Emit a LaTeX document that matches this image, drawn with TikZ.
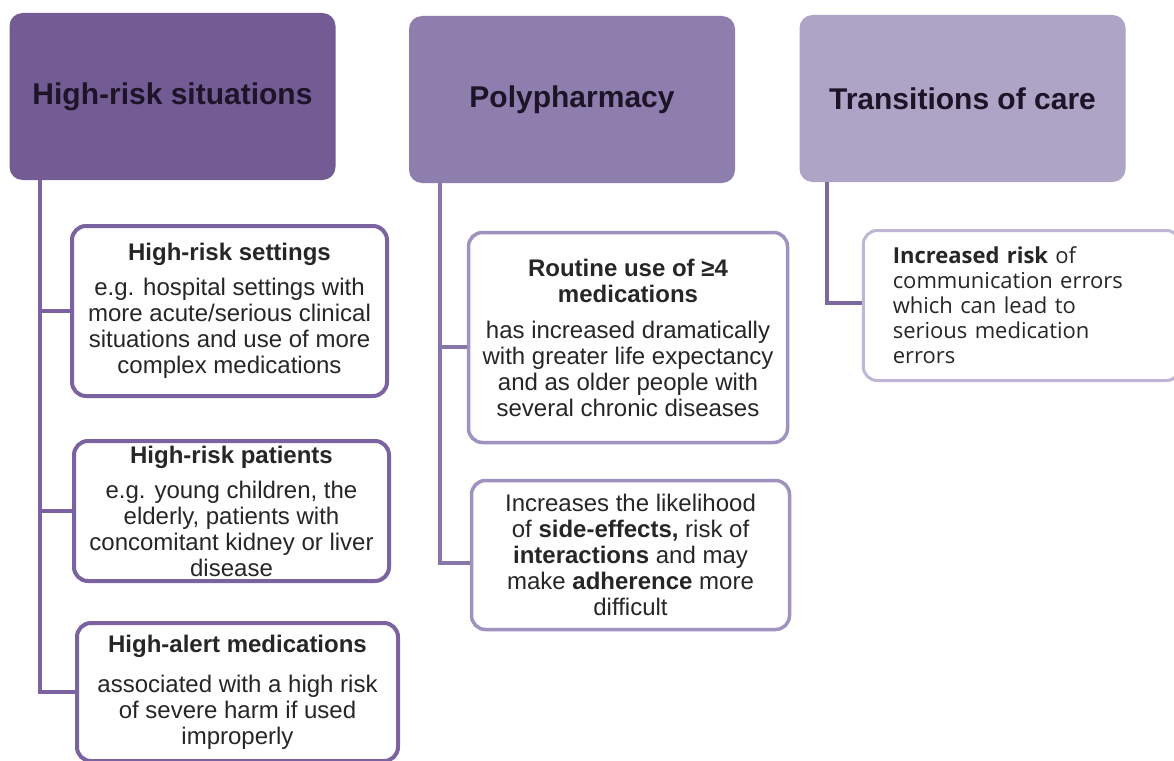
\documentclass[tikz,border=0pt]{standalone}
\usepackage{fontspec}
\setmainfont{Liberation Sans}
\newfontfamily\opensans{Open Sans}
\usepackage{tikz}
\definecolor{hdrone}{RGB}{115,91,148}
\definecolor{hdrtwo}{RGB}{142,126,174}
\definecolor{hdrthree}{RGB}{173,164,198}
\definecolor{lineone}{RGB}{123,99,161}
\definecolor{linetwo}{RGB}{134,118,170}
\definecolor{linethree}{RGB}{125,105,160}
\definecolor{edgetwo}{RGB}{160,146,192}
\definecolor{edgethree}{RGB}{190,182,212}
\definecolor{ink}{RGB}{30,20,40}
\definecolor{bodyink}{RGB}{38,38,38}
\tikzstyle{hdr} = [rectangle, rounded corners=13pt, minimum width=326pt, minimum height=167pt, inner sep=0pt, text=ink, font={\fontsize{30}{34}\selectfont\bfseries}]
\tikzstyle{sub} = [rectangle, rounded corners=14pt, draw=lineone, line width=4pt, fill=white, inner sep=0pt, align=center, text=bodyink, font={\fontsize{24}{26}\selectfont}]
\tikzstyle{subtwo} = [sub, draw=edgetwo, line width=3.5pt]
\tikzstyle{link} = [draw=lineone, line width=4pt]

\begin{document}
\begin{tikzpicture}[x=1pt,y=-1pt]
    \useasboundingbox (0,0) rectangle (1174,760);
    \fill[white] (0,0) rectangle (1174,760);
    \node[hdr,fill=hdrone](sit) at (172.5,96.5){High-risk situations};
    \node[hdr,fill=hdrtwo](poly) at (572,99.5){Polypharmacy};
    \node[hdr,fill=hdrthree](trans) at (962.5,98.5){Transitions of care};
    \node[sub,minimum width=315pt,minimum height=170pt](settings) at (229.5,311){\textbf{High-risk settings}\\[9pt]e.g. hospital settings with\\more acute/serious clinical\\situations and use of more\\complex medications};
    \node[sub,minimum width=315pt,minimum height=140pt](patients) at (231.5,511){\textbf{High-risk patients}\\[9pt]e.g. young children, the\\elderly, patients with\\concomitant kidney or liver\\disease};
    \node[sub,minimum width=321pt,minimum height=138pt](alert) at (237.5,692){\textbf{High-alert medications}\\[14pt]associated with a high risk\\of severe harm if used\\improperly};
    \node[subtwo,minimum width=319pt,minimum height=210pt](routine) at (628,337.5){\textbf{Routine use of ≥4}\\\textbf{medications}\\[10pt]has increased dramatically\\with greater life expectancy\\and as older people with\\several chronic diseases};
    \node[subtwo,minimum width=318pt,minimum height=149pt](likely) at (630.5,555){Increases the likelihood\\of \textbf{side-effects,} risk of\\\textbf{interactions} and may\\make \textbf{adherence} more\\difficult};
    \node[sub,draw=edgethree,line width=3pt,minimum width=317pt,minimum height=150pt,align=left,text width=258pt,font={\opensans\fontsize{22}{25}\selectfont}](comm) at (1021.75,305.5){\textbf{Increased risk} of\\communication errors\\which can lead to\\serious medication\\errors};
    \draw[link]([xshift=31pt]sit.south west) |- (settings.west);
    \draw[link]([xshift=31pt]sit.south west) |- (patients.west);
    \draw[link]([xshift=31pt]sit.south west) |- (alert.west);
    \draw[link,draw=linetwo]([xshift=31pt]poly.south west) |- ([yshift=-9.5pt]routine.west);
    \draw[link,draw=linetwo]([xshift=31pt]poly.south west) |- ([yshift=-8pt]likely.west);
    \draw[link,draw=linethree]([xshift=28pt]trans.south west) |- ([yshift=2.5pt]comm.west);
  \end{tikzpicture}
\end{document}
